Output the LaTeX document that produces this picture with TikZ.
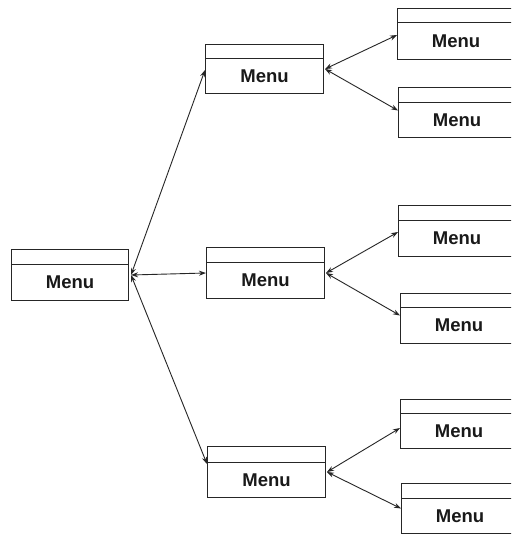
\documentclass[tikz,border=0pt]{standalone}
\usepackage{fontspec}
\setmainfont{Liberation Sans}
\usetikzlibrary{arrows.meta,calc}
\tikzset{
  box/.style={draw=black!85, line width=1pt, rectangle, inner sep=0pt, anchor=north west},
  divline/.style={draw=black!85, line width=1pt},
  menutext/.style={font=\fontsize{18.5}{19}\selectfont\bfseries, inner sep=0pt, text=black!90},
  link/.style={draw=black!85, line width=0.9pt, {Stealth[length=7pt,width=5pt]}-{Stealth[length=7pt,width=5pt]}}
}
% #1 name, #2 left x, #3 top y, #4 width, #5 height, #6 divider offset from top
\newcommand\menubox[6]{%
  \node[box, minimum width=#4pt, minimum height=#5pt] (#1) at (#2,#3) {};
  \draw[divline] ([yshift=-#6pt]#1.north west) -- ([yshift=-#6pt]#1.north east);
  \node[menutext] (#1t) at ($(#1.south)!0.5!([yshift=-#6pt]#1.north)$) {Menu};
}
\begin{document}
\begin{tikzpicture}[x=1pt,y=-1pt]
\useasboundingbox (0,0) rectangle (511,535);
\clip (0,0) rectangle (511,535);
\fill[white] (0,0) rectangle (511,535);
\menubox{root}{11}{249}{117}{51}{15}
\menubox{ma}{205}{44}{118}{49}{15}
\menubox{mb}{206}{247}{118}{51}{15}
\menubox{mc}{207}{446}{118}{51}{16}
\menubox{ca}{397}{8}{117}{51}{15}
\menubox{cb}{398}{87}{117}{50}{15}
\menubox{cc}{398}{205}{117}{51}{15}
\menubox{cd}{400}{293}{117}{50}{14}
\menubox{ce}{400}{399}{117}{49}{14}
\menubox{cf}{401}{483}{117}{50}{15}
\draw[link] ([xshift=2pt]root.east) -- ([yshift=-1pt]ma.west);
\draw[link] ([xshift=2pt]root.east) -- (mb.west);
\draw[link] ([xshift=2pt]root.east) -- ([yshift=8pt]mc.west);
\draw[link] ([xshift=1pt]ma.east) -- ([yshift=-1pt]ca.west);
\draw[link] ([xshift=1pt]ma.east) -- ([yshift=2pt]cb.west);
\draw[link] ([xshift=1pt]mb.east) -- ([yshift=-1pt]cc.west);
\draw[link] ([xshift=1pt]mb.east) -- ([yshift=3pt]cd.west);
\draw[link] ([xshift=1pt]mc.east) -- ([yshift=-4pt]ce.west);
\draw[link] ([xshift=1pt]mc.east) -- (cf.west);
\end{tikzpicture}
\end{document}
